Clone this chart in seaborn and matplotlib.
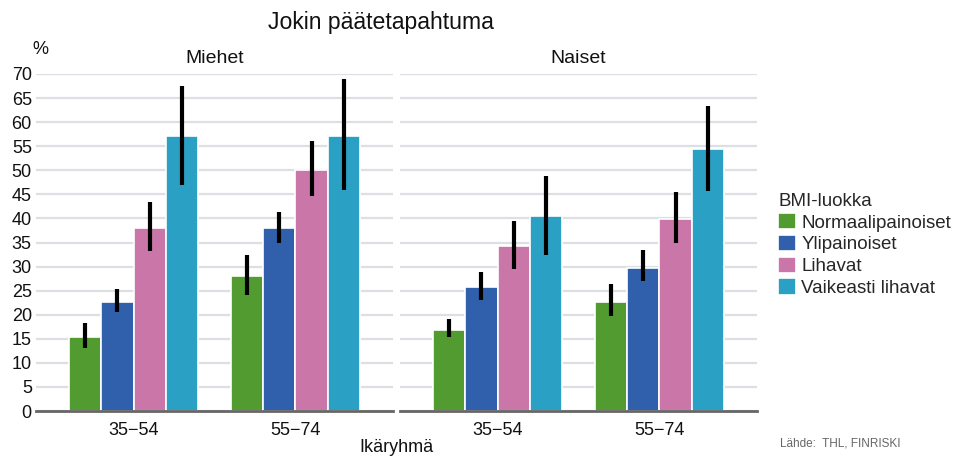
import matplotlib
matplotlib.use("Agg")
import matplotlib.pyplot as plt
import seaborn as sns
import pandas as pd

# ---- data ----
sexes = ["Miehet", "Naiset"]
age_groups = ["35\u221254", "55\u221274"]
bmi_classes = ["Normaalipainoiset", "Ylipainoiset", "Lihavat", "Vaikeasti lihavat"]
colors = ["#529B30", "#3060AC", "#CB76A9", "#2AA1C4"]

# values[bmi] -> [age 35-54, age 55-74]
men_values = {
    "Normaalipainoiset": [15.4, 28.0],
    "Ylipainoiset": [22.6, 38.0],
    "Lihavat": [38.0, 50.1],
    "Vaikeasti lihavat": [57.1, 57.2],
}
men_low = {
    "Normaalipainoiset": [13.0, 24.1],
    "Ylipainoiset": [20.5, 35.0],
    "Lihavat": [33.2, 44.6],
    "Vaikeasti lihavat": [47.0, 46.0],
}
men_high = {
    "Normaalipainoiset": [18.2, 32.5],
    "Ylipainoiset": [25.3, 41.4],
    "Lihavat": [43.4, 56.0],
    "Vaikeasti lihavat": [67.6, 68.9],
}
women_values = {
    "Normaalipainoiset": [16.8, 22.7],
    "Ylipainoiset": [25.7, 29.8],
    "Lihavat": [34.3, 39.9],
    "Vaikeasti lihavat": [40.5, 54.5],
}
women_low = {
    "Normaalipainoiset": [15.3, 19.7],
    "Ylipainoiset": [23.0, 27.0],
    "Lihavat": [29.4, 34.8],
    "Vaikeasti lihavat": [32.5, 45.8],
}
women_high = {
    "Normaalipainoiset": [19.2, 26.3],
    "Ylipainoiset": [28.9, 33.4],
    "Lihavat": [39.5, 45.4],
    "Vaikeasti lihavat": [48.9, 63.4],
}
yticks = list(range(0, 75, 5))

series = {
    "Miehet": (men_values, men_low, men_high),
    "Naiset": (women_values, women_low, women_high),
}

sns.set_theme(style="white")
plt.rcParams["font.family"] = ["Liberation Sans", "DejaVu Sans"]

W, H = 971, 457
fig, axes = plt.subplots(1, 2, figsize=(W / 100, H / 100), dpi=100, sharey=True)
fig.subplots_adjust(left=36 / W, right=757 / W, bottom=1 - 411 / H, top=1 - 74 / H,
                    wspace=7 / 357)

palette = dict(zip(bmi_classes, colors))

for ax, sex in zip(axes, sexes):
    vals, lows, highs = series[sex]
    rows = []
    for b in bmi_classes:
        for i, a in enumerate(age_groups):
            rows.append({"age": a, "bmi": b, "value": vals[b][i]})
    df = pd.DataFrame(rows)
    sns.barplot(data=df, x="age", y="value", hue="bmi", order=age_groups,
                hue_order=bmi_classes, palette=palette, width=0.8,
                errorbar=None, edgecolor="white", linewidth=1.2,
                saturation=1, ax=ax, legend=(sex == "Miehet"), zorder=2)
    # error bars placed at the centres of the drawn bars
    for b, cont in zip(bmi_classes, ax.containers):
        for i, patch in enumerate(cont.patches):
            xc = patch.get_x() + patch.get_width() / 2
            ax.vlines(xc, lows[b][i], highs[b][i], color="black",
                      linewidth=3, zorder=4)
    ax.set_xlim(-0.602, 1.602)
    ax.set_ylim(0, 70)
    ax.set_yticks(yticks)
    ax.yaxis.grid(True, color="#DCDFE4", linewidth=1.6, zorder=0)
    ax.set_axisbelow(True)
    for s in ["top", "right", "left"]:
        ax.spines[s].set_visible(False)
    ax.spines["bottom"].set_color("#666666")
    ax.spines["bottom"].set_linewidth(2)
    ax.spines["bottom"].set_zorder(5)
    ax.tick_params(axis="y", length=0, labelsize=13, colors="#111111", pad=3)
    ax.tick_params(axis="x", length=0, labelsize=13, colors="#111111", pad=8)
    ax.set_xlabel("")
    ax.set_ylabel("")
    ax.set_title(sex, fontsize=14, pad=8, color="#111111")

handles, labels = axes[0].get_legend_handles_labels()
axes[0].get_legend().remove()
leg = fig.legend(handles, labels, title="BMI-luokka", loc="upper left",
                 bbox_to_anchor=(778 / W, 1 - 193 / H), frameon=False,
                 fontsize=13.5, title_fontsize=13.5, alignment="left",
                 handlelength=0.95, handleheight=0.95, handletextpad=0.3,
                 labelspacing=0.17, borderpad=0, borderaxespad=0)

fig.text(381 / W, 1 - 23 / H, "Jokin päätetapahtuma", ha="center", va="center",
         fontsize=16.6, color="#111111")
fig.text(40 / W, 1 - 50 / H, "%", ha="center", va="center", fontsize=13,
         color="#111111")
fig.text(396 / W, 1 - 448 / H, "Ikäryhmä", ha="center", va="center",
         fontsize=13, color="#111111")
fig.text(780 / W, 1 - 444 / H, "Lähde:  THL, FINRISKI", ha="left", va="center",
         fontsize=8.5, color="#666666")

fig.savefig("out.png", dpi=100)
